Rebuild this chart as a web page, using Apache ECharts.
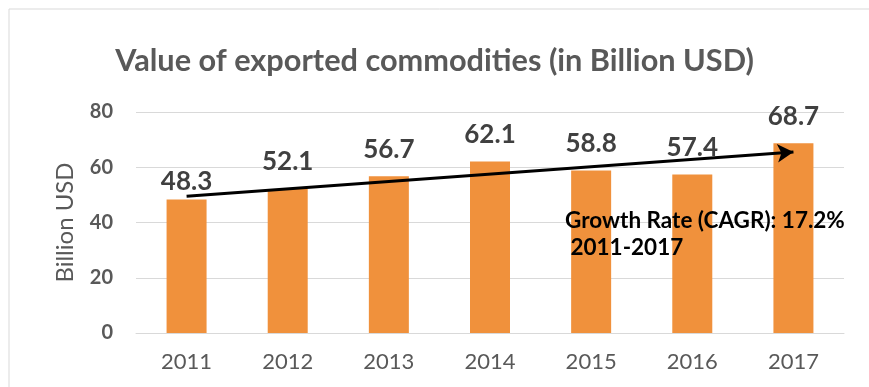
<!DOCTYPE html>
<html>
<head>
<meta charset="utf-8">
<script src="https://cdn.jsdelivr.net/npm/echarts@6/dist/echarts.min.js"></script>
<style>
  html, body { margin: 0; padding: 0; background: #ffffff; }
  #chart { width: 869px; height: 387px; }
</style>
</head>
<body>
<div id="chart"></div>
<script>
// Export values per year, billion USD
const years = ['2011', '2012', '2013', '2014', '2015', '2016', '2017'];
const exportValues = [48.3, 52.1, 56.7, 62.1, 58.8, 57.4, 68.7];
const yTicks = [0, 20, 40, 60, 80];
// Trend arrow end points (category, value)
const trendStart = ['2011', 49.5];
const trendEnd = ['2017', 65.5];
const cagrLines = ['Growth Rate (CAGR): 17.2%', ' 2011-2017'];

const FONT = 'Lato, "Open Sans", sans-serif';
const GREY = '#595959';

const chart = echarts.init(document.getElementById('chart'), null, { renderer: 'canvas' });

chart.setOption({
  backgroundColor: '#ffffff',
  animation: false,
  title: {
    text: 'Value of exported commodities (in Billion USD)',
    left: 'center',
    top: 41,
    textStyle: { fontFamily: FONT, fontSize: 30.7, fontWeight: 'bold', color: GREY }
  },
  grid: { left: 136, top: 112, width: 708, height: 221 },
  xAxis: {
    type: 'category',
    data: years,
    axisLine: { lineStyle: { color: '#d9d9d9', width: 1 } },
    axisTick: { show: false },
    axisLabel: { fontFamily: FONT, fontSize: 22, color: GREY, margin: 18 }
  },
  yAxis: {
    type: 'value',
    min: yTicks[0],
    max: yTicks[yTicks.length - 1],
    interval: 20,
    name: 'Billion USD',
    nameLocation: 'middle',
    nameGap: 59,
    nameTextStyle: { fontFamily: FONT, fontSize: 24, color: GREY },
    axisLine: { show: false },
    axisTick: { show: false },
    splitLine: { lineStyle: { color: '#d9d9d9', width: 1 } },
    axisLabel: { fontFamily: FONT, fontSize: 20, fontWeight: 'bold', color: GREY, margin: 23 }
  },
  series: [{
    type: 'bar',
    data: exportValues.map((v, i) => i === 0
      ? { value: v, label: { distance: 5 } }
      : { value: v }),
    barWidth: 40,
    itemStyle: { color: '#F0913C' },
    label: {
      show: true,
      position: 'top',
      distance: 14,
      fontFamily: FONT,
      fontSize: 26,
      fontWeight: 'bold',
      color: '#404040'
    },
    markLine: {
      silent: true,
      symbol: ['none', 'arrow'],
      symbolSize: [14, 16],
      label: { show: false },
      lineStyle: { color: '#000000', width: 3, type: 'solid' },
      data: [[
        { coord: trendStart },
        { coord: trendEnd }
      ]]
    }
  }],
  graphic: [
    {
      type: 'rect',
      shape: { x: 9, y: 9, width: 900, height: 420 },
      style: { fill: 'none', stroke: '#d9d9d9', lineWidth: 1 },
      silent: true
    },
    {
      type: 'text',
      left: 565,
      top: 207,
      z: 100,
      style: {
        text: cagrLines.join('\n'),
        fontFamily: FONT,
        fontSize: 22.5,
        fontWeight: 'bold',
        lineHeight: 27,
        fill: '#000000'
      }
    }
  ]
});
</script>
</body>
</html>
